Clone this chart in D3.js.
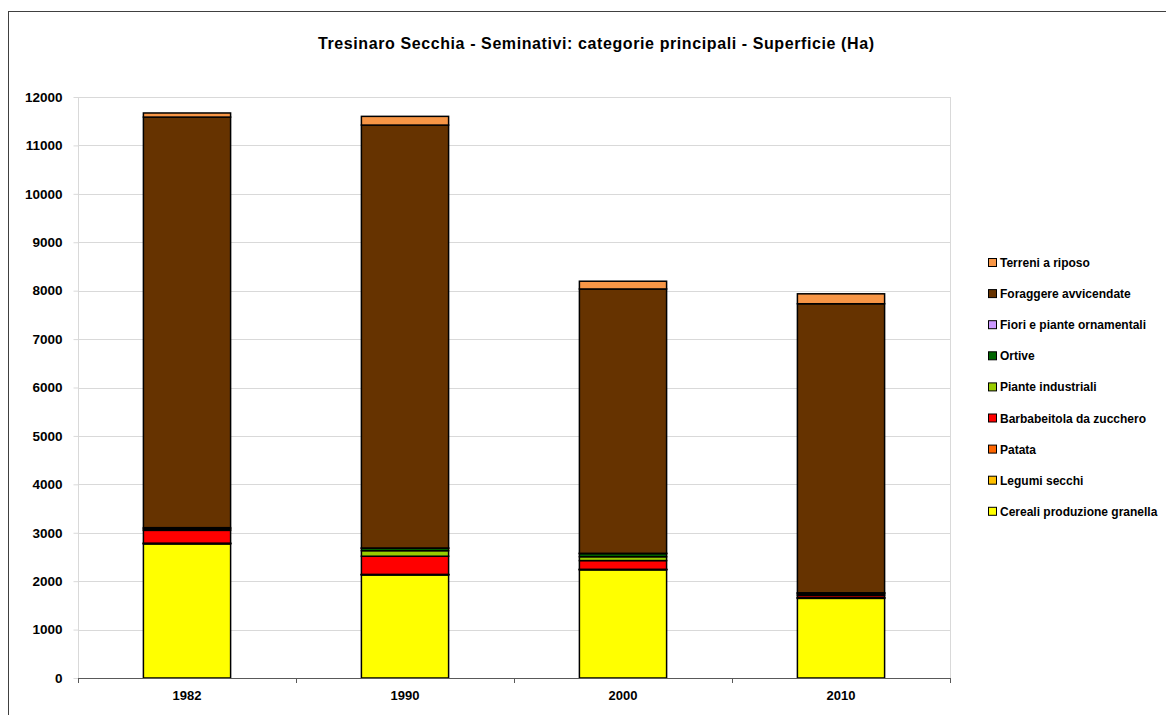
<!DOCTYPE html>
<html>
<head>
<meta charset="utf-8">
<script src="https://cdn.jsdelivr.net/npm/d3@7"></script>
<style>
  html, body { margin: 0; padding: 0; background: #fff; }
  svg { display: block; }
  text { font-family: "Liberation Sans", Arial, sans-serif; font-weight: bold; fill: #000; }
</style>
</head>
<body>
<svg id="chart" width="1166" height="715"></svg>
<script>
const title = "Tresinaro Secchia  - Seminativi: categorie principali - Superficie (Ha)";
const years = ["1982", "1990", "2000", "2010"];
const seriesNames = [
  "Cereali produzione granella",
  "Legumi secchi",
  "Patata",
  "Barbabeitola da zucchero",
  "Piante industriali",
  "Ortive",
  "Fiori e piante ornamentali",
  "Foraggere avvicendate",
  "Terreni a riposo"
];
const seriesColors = ["#FFFF00", "#FFC000", "#FF6600", "#FF0000", "#99CC00", "#006600", "#CC99FF", "#663300", "#F79646"];
const cereali     = [2770, 2130, 2235, 1645];
const legumi      = [10, 5, 5, 10];
const patata      = [5, 5, 5, 5];
const barbabietola= [265, 375, 180, 45];
const pianteInd   = [30, 115, 80, 30];
const ortive      = [25, 50, 65, 20];
const fiori       = [0, 5, 5, 5];
const foraggere   = [8480, 8735, 5460, 5970];
const terreni     = [85, 180, 160, 205];
const seriesValues = [cereali, legumi, patata, barbabietola, pianteInd, ortive, fiori, foraggere, terreni];
const yTicks = [0, 1000, 2000, 3000, 4000, 5000, 6000, 7000, 8000, 9000, 10000, 11000, 12000];

const svg = d3.select("#chart");
const plot = { left: 78, right: 950, top: 97, bottom: 678 };

// outer frame
svg.append("rect").attr("x", 8.5).attr("y", 11.5).attr("width", 1200).attr("height", 800)
  .attr("fill", "#fff").attr("stroke", "#404040").attr("stroke-width", 1);

svg.append("text").attr("x", 596).attr("y", 49).attr("text-anchor", "middle")
  .style("font-size", "16px").attr("textLength", 556).attr("lengthAdjust", "spacing").text(title);

const x = d3.scaleBand().domain(years).range([plot.left, plot.right]).paddingInner(0.6).paddingOuter(0.3);
const y = d3.scaleLinear().domain([0, 12000]).range([plot.bottom, plot.top]);

// gridlines
svg.append("g").selectAll("line").data(yTicks.slice(1)).join("line")
  .attr("x1", plot.left).attr("x2", plot.right)
  .attr("y1", d => Math.round(y(d)) + 0.5).attr("y2", d => Math.round(y(d)) + 0.5)
  .attr("stroke", "#d9d9d9").attr("stroke-width", 1);
// plot area left/right borders
svg.append("line").attr("x1", plot.left + 0.5).attr("x2", plot.left + 0.5).attr("y1", plot.top).attr("y2", plot.bottom)
  .attr("stroke", "#d9d9d9");
svg.append("line").attr("x1", plot.right + 0.5).attr("x2", plot.right + 0.5).attr("y1", plot.top).attr("y2", plot.bottom)
  .attr("stroke", "#d9d9d9");

// y axis
const yAxis = d3.axisLeft(y).tickValues(yTicks).tickSize(5).tickPadding(11).tickFormat(d3.format("d"));
const gy = svg.append("g").attr("transform", `translate(${plot.left + 0.5},0)`).call(yAxis);
gy.select(".domain").remove();
gy.selectAll(".tick line").attr("stroke", "#d9d9d9");
gy.selectAll("text").style("font-size", "13.5px").attr("font-family", null);

// stacked data
const table = years.map((yr, i) => {
  const o = { year: yr };
  seriesNames.forEach((s, j) => { o[s] = seriesValues[j][i]; });
  return o;
});
const stack = d3.stack().keys(seriesNames)(table);

const bars = svg.append("g");
stack.forEach((layer, j) => {
  bars.append("g").attr("fill", seriesColors[j]).selectAll("rect").data(layer).join("rect")
    .attr("x", d => x(d.data.year))
    .attr("width", x.bandwidth())
    .attr("y", d => y(d[1]))
    .attr("height", d => y(d[0]) - y(d[1]))
    .attr("stroke", "#000").attr("stroke-width", 1.5);
});

// x axis
const xAxis = d3.axisBottom(x).tickSize(0).tickPadding(12);
const gx = svg.append("g").attr("transform", `translate(0,${plot.bottom + 0.5})`).call(xAxis);
gx.select(".domain").attr("stroke", "#595959").attr("d", `M${plot.left},0H${plot.right}`);
gx.selectAll("text").style("font-size", "13px").attr("font-family", null);
const boundaries = [plot.left].concat(years.map(yr => x(yr) + x.bandwidth() / 2 + x.step() / 2));
svg.append("g").selectAll("line").data(boundaries).join("line")
  .attr("x1", d => Math.round(d) + 0.5).attr("x2", d => Math.round(d) + 0.5)
  .attr("y1", plot.bottom).attr("y2", plot.bottom + 5)
  .attr("stroke", "#595959");

// legend (reverse order)
const legendOrder = seriesNames.map((s, j) => j).reverse();
const lg = svg.append("g").attr("transform", "translate(988,263)");
legendOrder.forEach((j, k) => {
  const g = lg.append("g").attr("transform", `translate(0,${k * 31.1})`);
  g.append("rect").attr("x", 0.5).attr("y", -4.5).attr("width", 8).attr("height", 8)
    .attr("fill", seriesColors[j]).attr("stroke", "#000").attr("stroke-width", 1);
  g.append("text").attr("x", 12).attr("y", 4).style("font-size", "12px").text(seriesNames[j]);
});
</script>
</body>
</html>
